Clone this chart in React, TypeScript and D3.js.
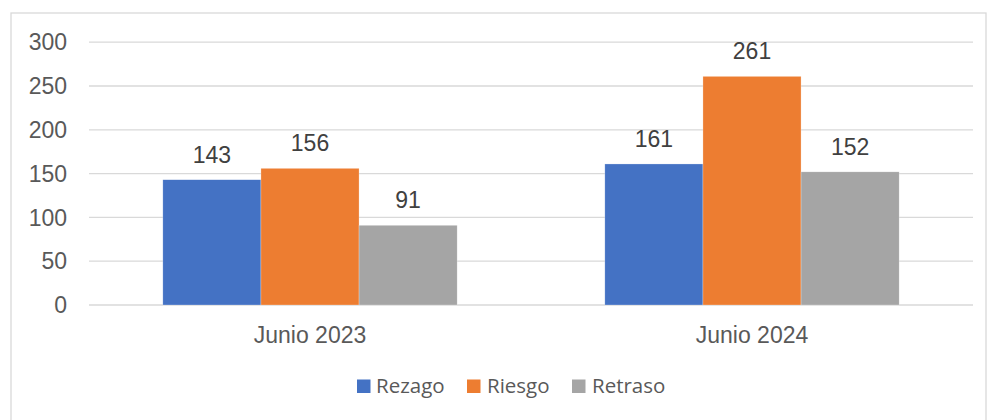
import React from "react";
import * as d3 from "d3";

const categories = ["Junio 2023", "Junio 2024"];
const seriesNames = ["Rezago", "Riesgo", "Retraso"];
const rezago = [143, 161];
const riesgo = [156, 261];
const retraso = [91, 152];
const yTicks = [0, 50, 100, 150, 200, 250, 300];
const colors = ["#4472C4", "#ED7D31", "#A5A5A5"];

export default function App() {
  const W = 987, H = 420;
  const left = 89, right = 973, top = 42.2, bottom = 305;
  const values = [rezago, riesgo, retraso];
  const x0 = d3.scaleBand<string>().domain(categories).range([left, right]).paddingInner(0).paddingOuter(0);
  const groupW = 294.3;
  const x1 = d3.scaleBand<string>().domain(seriesNames).range([0, groupW]).padding(0);
  const y = d3.scaleLinear().domain([0, 300]).range([bottom, top]);
  const font = "'Liberation Sans', Arial, sans-serif";

  const legendItems = [
    { name: "Rezago", sq: 357, tx: 376 },
    { name: "Riesgo", sq: 467, tx: 487 },
    { name: "Retraso", sq: 572, tx: 592 },
  ];

  return (
    <svg width={W} height={H} style={{ position: "absolute", left: 0, top: 0, background: "#fff" }}>
      <rect x={11} y={13} width={975} height={420} fill="#fff" stroke="#d9d9d9" strokeWidth={1.3} />
      {yTicks.map((t) => (
        <g key={t}>
          <line x1={left} x2={right} y1={y(t)} y2={y(t)} stroke="#d9d9d9" strokeWidth={1.3} />
          <text x={67} y={y(t)} dy="0.36em" textAnchor="end" fontFamily={font} fontSize={23} fill="#595959">
            {t}
          </text>
        </g>
      ))}
      {categories.map((c, ci) => {
        const gx = (x0(c) as number) + (x0.bandwidth() - groupW) / 2;
        return (
          <g key={c}>
            {seriesNames.map((s, si) => {
              const v = values[si][ci];
              const bx = gx + (x1(s) as number);
              return (
                <g key={s}>
                  <rect x={bx} y={y(v)} width={x1.bandwidth()} height={y(0) - y(v)} fill={colors[si]} stroke="#fff" strokeWidth={0.5} strokeOpacity={0.5} />
                  <text x={bx + x1.bandwidth() / 2} y={y(v) - 17} textAnchor="middle" fontFamily={font} fontSize={23} fill="#404040">
                    {v}
                  </text>
                </g>
              );
            })}
            <text x={(x0(c) as number) + x0.bandwidth() / 2} y={342.5} textAnchor="middle" fontFamily={font} fontSize={23} fill="#595959">
              {c}
            </text>
          </g>
        );
      })}
      {legendItems.map((l, i) => (
        <g key={l.name}>
          <rect x={l.sq} y={379.5} width={13.5} height={13.5} fill={colors[i]} />
          <text x={l.tx} y={393} fontFamily="'Open Sans', sans-serif" fontSize={20.5} fill="#595959">
            {seriesNames[i]}
          </text>
        </g>
      ))}
    </svg>
  );
}
